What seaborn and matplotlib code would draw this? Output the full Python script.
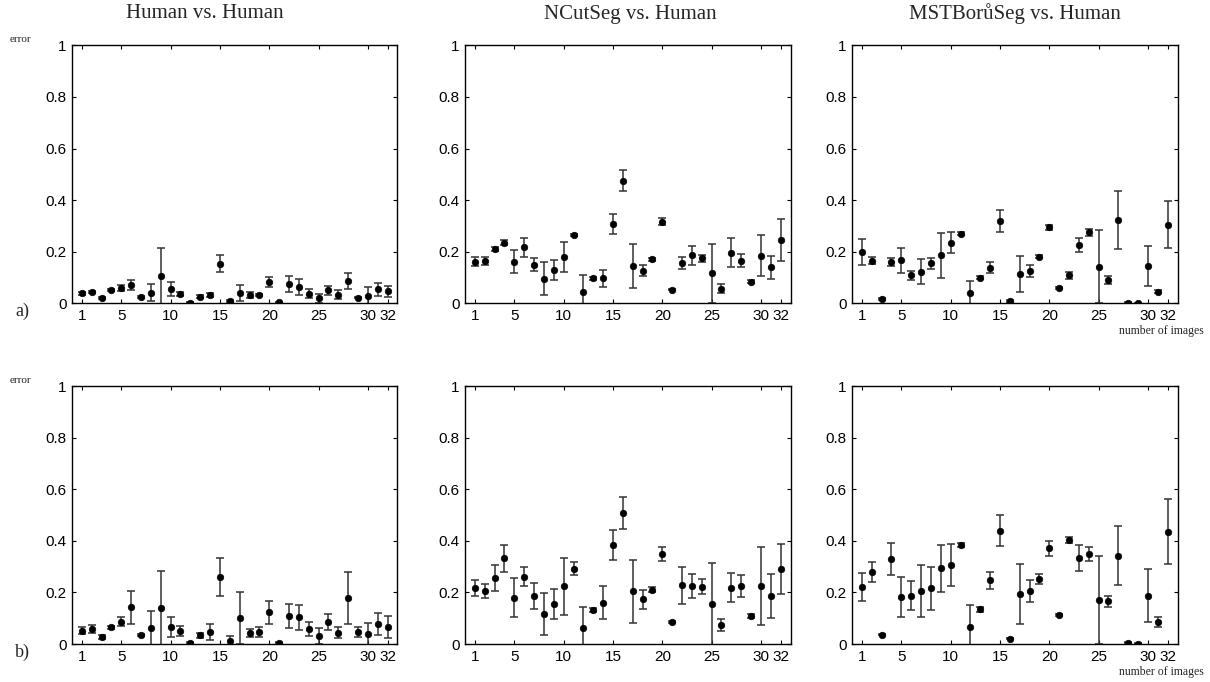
import matplotlib.pyplot as plt
import seaborn as sns
import pandas as pd
import numpy as np

sns.set_style("ticks")
plt.rcParams["font.family"] = ["Liberation Sans", "DejaVu Sans"]

images = np.arange(1, 33)
xticks = [1, 5, 10, 15, 20, 25, 30, 32]
yticks = [0, 0.2, 0.4, 0.6, 0.8, 1]
ytick_labels = ["0", "0.2", "0.4", "0.6", "0.8", "1"]
titles = ["Human vs. Human", "NCutSeg vs. Human", "MSTBorůSeg vs. Human"]
row_labels = ["a)", "b)"]

# row a)
hh_a_mean = [0.039, 0.043, 0.022, 0.052, 0.058, 0.070, 0.023, 0.041, 0.106, 0.057,
             0.036, 0.003, 0.026, 0.032, 0.154, 0.008, 0.039, 0.032, 0.032, 0.083,
             0.004, 0.075, 0.063, 0.037, 0.019, 0.050, 0.034, 0.086, 0.022, 0.030,
             0.054, 0.046]
hh_a_err = [0.006, 0.004, 0.004, 0.004, 0.011, 0.020, 0.004, 0.032, 0.107, 0.027,
            0.008, 0.003, 0.005, 0.008, 0.033, 0.004, 0.030, 0.010, 0.004, 0.020,
            0.002, 0.030, 0.031, 0.017, 0.017, 0.016, 0.017, 0.030, 0.003, 0.033,
            0.024, 0.021]
nc_a_mean = [0.162, 0.164, 0.210, 0.235, 0.161, 0.217, 0.149, 0.095, 0.129, 0.179,
             0.264, 0.044, 0.097, 0.097, 0.308, 0.475, 0.145, 0.127, 0.170, 0.316,
             0.053, 0.155, 0.186, 0.174, 0.116, 0.057, 0.196, 0.165, 0.084, 0.184,
             0.140, 0.245]
nc_a_err = [0.018, 0.016, 0.008, 0.010, 0.044, 0.037, 0.025, 0.064, 0.039, 0.057,
            0.004, 0.065, 0.005, 0.034, 0.038, 0.040, 0.084, 0.023, 0.007, 0.014,
            0.003, 0.023, 0.036, 0.013, 0.115, 0.016, 0.056, 0.025, 0.005, 0.080,
            0.045, 0.080]
mst_a_mean = [0.200, 0.165, 0.017, 0.161, 0.166, 0.109, 0.123, 0.155, 0.186, 0.235,
              0.270, 0.039, 0.100, 0.138, 0.319, 0.009, 0.112, 0.125, 0.181, 0.294,
              0.058, 0.108, 0.225, 0.275, 0.142, 0.091, 0.323, 0.003, 0.001, 0.144,
              0.044, 0.305]
mst_a_err = [0.050, 0.014, 0.003, 0.016, 0.050, 0.018, 0.050, 0.022, 0.087, 0.040,
             0.007, 0.048, 0.004, 0.021, 0.043, 0.003, 0.070, 0.023, 0.007, 0.008,
             0.004, 0.012, 0.027, 0.014, 0.142, 0.016, 0.112, 0.002, 0.002, 0.078,
             0.006, 0.090]

# row b)
hh_b_mean = [0.052, 0.058, 0.027, 0.065, 0.087, 0.142, 0.034, 0.062, 0.139, 0.065,
             0.051, 0.004, 0.034, 0.047, 0.260, 0.013, 0.100, 0.042, 0.045, 0.123,
             0.005, 0.109, 0.104, 0.057, 0.031, 0.086, 0.044, 0.180, 0.047, 0.038,
             0.078, 0.067]
hh_b_err = [0.015, 0.014, 0.009, 0.005, 0.016, 0.064, 0.004, 0.066, 0.144, 0.038,
            0.020, 0.004, 0.010, 0.030, 0.074, 0.018, 0.100, 0.015, 0.019, 0.045,
            0.003, 0.046, 0.048, 0.027, 0.030, 0.032, 0.022, 0.101, 0.018, 0.043,
            0.042, 0.043]
nc_b_mean = [0.217, 0.205, 0.256, 0.332, 0.179, 0.261, 0.187, 0.116, 0.155, 0.223,
             0.291, 0.061, 0.132, 0.160, 0.384, 0.508, 0.204, 0.173, 0.210, 0.349,
             0.087, 0.227, 0.226, 0.222, 0.155, 0.073, 0.218, 0.225, 0.108, 0.226,
             0.186, 0.290]
nc_b_err = [0.031, 0.026, 0.050, 0.053, 0.075, 0.038, 0.050, 0.083, 0.058, 0.110,
            0.025, 0.084, 0.008, 0.064, 0.057, 0.062, 0.122, 0.038, 0.010, 0.026,
            0.004, 0.073, 0.047, 0.029, 0.160, 0.022, 0.056, 0.044, 0.007, 0.151,
            0.086, 0.096]
mst_b_mean = [0.220, 0.278, 0.036, 0.330, 0.183, 0.187, 0.205, 0.216, 0.293, 0.306,
              0.383, 0.066, 0.134, 0.247, 0.439, 0.021, 0.195, 0.206, 0.251, 0.371,
              0.112, 0.403, 0.332, 0.349, 0.170, 0.166, 0.343, 0.005, 0.001, 0.187,
              0.086, 0.436]
mst_b_err = [0.055, 0.038, 0.003, 0.062, 0.077, 0.056, 0.100, 0.084, 0.092, 0.082,
             0.008, 0.086, 0.010, 0.032, 0.061, 0.003, 0.117, 0.044, 0.019, 0.029,
             0.004, 0.012, 0.050, 0.026, 0.170, 0.021, 0.114, 0.003, 0.002, 0.102,
             0.020, 0.125]

panels = [
    [(hh_a_mean, hh_a_err), (nc_a_mean, nc_a_err), (mst_a_mean, mst_a_err)],
    [(hh_b_mean, hh_b_err), (nc_b_mean, nc_b_err), (mst_b_mean, mst_b_err)],
]

W, H = 1210, 682
fig = plt.figure(figsize=(W / 100, H / 100), dpi=100)

lefts = [72, 465, 852]
bottoms = [303.3, 644]
pw, ph = 325.5, 258
title_x = [205, 630, 1015]

for r, row in enumerate(panels):
    for c, (mean, err) in enumerate(row):
        ax = fig.add_axes([lefts[c] / W, 1 - bottoms[r] / H, pw / W, ph / H])
        df = pd.DataFrame({"image": images, "error": mean, "sd": err})
        ax.errorbar(df["image"], df["error"], yerr=df["sd"], fmt="none",
                    ecolor="0.2", elinewidth=1.1, capsize=3, capthick=1.1)
        sns.scatterplot(data=df, x="image", y="error", ax=ax, color="black",
                        s=22, edgecolor="black", linewidth=0.5, zorder=3)
        ax.set_xlim(0, 33)
        ax.set_ylim(0, 1)
        ax.set_xticks(xticks)
        ax.set_xticklabels([str(t) for t in xticks])
        ax.set_yticks(yticks)
        ax.set_yticklabels(ytick_labels)
        ax.tick_params(direction="in", length=3, width=0.8, top=True, right=True,
                       labelsize=11, colors="black")
        ax.tick_params(axis="x", pad=4)
        ax.tick_params(axis="y", pad=4)
        for s in ax.spines.values():
            s.set_linewidth(1.0)
            s.set_color("black")
        ax.set_xlabel("")
        ax.set_ylabel("")

for c, t in enumerate(titles):
    fig.text(title_x[c] / W, 1 - 14 / H, t, family="Liberation Serif",
             fontsize=15, ha="center", va="center")

for r in range(2):
    top = bottoms[r] - ph
    fig.text(10 / W, 1 - (top - 1) / H, "error", family="Liberation Serif",
             fontsize=8, ha="left", va="bottom")
    fig.text(15 / W, 1 - (bottoms[r] + 8) / H, row_labels[r], family="Liberation Serif",
             fontsize=13, ha="left", va="center")
    fig.text(1204 / W, 1 - (bottoms[r] + 22) / H, "number of images",
             family="Liberation Serif", fontsize=8.5, ha="right", va="top")

fig.savefig("out.png", dpi=100)
